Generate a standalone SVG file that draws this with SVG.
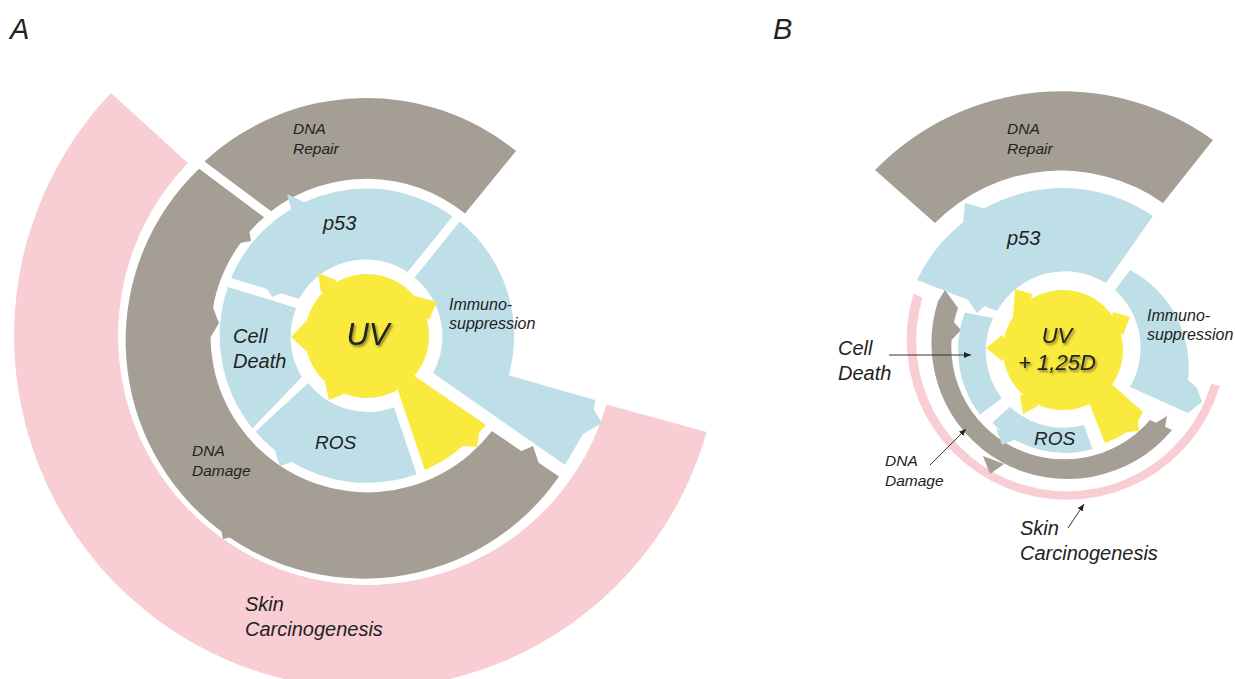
<svg xmlns="http://www.w3.org/2000/svg" width="1235" height="679" viewBox="0 0 1235 679">
<style>
.pink{fill:#f8cdd4}
.gray{fill:#a59e94}
.blue{fill:#bedfe8}
.yel{fill:#f9ea3d}
.t{font-family:'Liberation Sans',Arial,sans-serif;font-style:italic;fill:#222}
.conn{stroke:#333;stroke-width:1;fill:none}
</style>
<defs>
<marker id="ah" markerWidth="8" markerHeight="8" refX="7" refY="4" orient="auto" markerUnits="userSpaceOnUse"><path d="M0,1 L7,4 L0,7 Z" fill="#222"/></marker>
<filter id="sh" x="-30%" y="-30%" width="160%" height="160%"><feDropShadow dx="1.5" dy="2" stdDeviation="1.2" flood-color="#000" flood-opacity="0.45"/></filter>
</defs>
<rect width="1235" height="679" fill="#fff"/>

<text class="t" x="10" y="39" font-size="29">A</text>
<text class="t" x="773" y="39" font-size="29">B</text>

<!-- Panel A -->
<g id="A-skin-carcinogenesis">
<path class="pink" d="M706.7,432.1 A353,353 0 1 1 110.9,93 L187.9,163 A249,249 0 1 0 606.4,404.6 Z"/>
<text class="t" font-size="20"><tspan x="245" y="611">Skin</tspan><tspan x="245" y="636">Carcinogenesis</tspan></text>
</g>
<g id="A-dna-damage">
<path class="gray" d="M559,476.6 A238,238 0 1 1 199.1,168.7 L264.1,217.2 A157,157 0 1 0 491.9,431.1 Z"/>
<polygon class="gray" points="248,224 251,241 234,244"/>
<polygon class="gray" points="212,305 219,323 209,340"/>
<polygon class="gray" points="219,518 223,539 245,534"/>
<polygon class="gray" points="517,453 533,446 540,467"/>
<text class="t" font-size="15.5"><tspan x="192" y="456">DNA</tspan><tspan x="192" y="476">Damage</tspan></text>
</g>
<g id="A-dna-repair">
<path class="gray" d="M204.5,161.5 A238,238 0 0 1 516,151 L465,213.5 A157,157 0 0 0 271.1,211.2 Z"/>
<text class="t" font-size="15.5"><tspan x="293" y="134">DNA</tspan><tspan x="293" y="154">Repair</tspan></text>
</g>
<g id="A-p53">
<path class="blue" d="M231,278 A147,147 0 0 1 452.5,216.5 L407.6,272 A76,76 0 0 0 299,299 Z"/>
<polygon class="blue" points="308,204 287,194 293,216"/>
<polygon class="blue" points="264,283 272,297 289,290"/>
<text class="t" x="323" y="230" font-size="20">p53</text>
</g>
<g id="A-cell-death">
<path class="blue" d="M252.4,428.3 A147,147 0 0 1 228,287 L296.3,308 A76,76 0 0 0 301.8,376.9 Z"/>
<text class="t" font-size="20"><tspan x="233" y="343">Cell</tspan><tspan x="233" y="368">Death</tspan></text>
</g>
<g id="A-ros">
<path class="blue" d="M416.7,474.3 A147,147 0 0 1 255.6,431.4 L308.2,383.1 A76,76 0 0 0 394,407.3 Z"/>
<polygon class="blue" points="272,442 280,466 300,459"/>
<text class="t" x="315" y="449" font-size="19">ROS</text>
</g>
<g id="A-immunosuppression">
<path class="blue" d="M459.8,221.6 A147,147 0 0 1 508.7,375.3 L595,400 L594,410 L602,423 L583,434 L565,465 L433,373 A76,76 0 0 0 414.6,277.6 Z"/>
<text class="t" font-size="16"><tspan x="449" y="310">Immuno-</tspan><tspan x="449" y="329">suppression</tspan></text>
</g>
<g id="A-uv">
<circle class="yel" cx="367" cy="336" r="62"/>
<polygon class="yel" points="321,292 318,273 336,280 334,292"/>
<polygon class="yel" points="415,296 437,302 429,320 418,312"/>
<polygon class="yel" points="306,321 291,337 306,351 312,337"/>
<polygon class="yel" points="324,378 329,400 344,394 336,385"/>
<path class="yel" d="M403,368 L486,425 L479,433 L477,447 L463,446 A146,146 0 0 1 424.8,470 L394,379 Z"/>
<text class="t" x="368" y="345" font-size="31" text-anchor="middle" filter="url(#sh)">UV</text>
</g>

<!-- Panel B -->
<g id="B-skin-carcinogenesis">
<path class="pink" d="M1219.9,385.8 A159,159 0 1 1 913.5,293.6 L922.5,297.7 A150,150 0 1 0 1211.2,383.8 Z"/>
<text class="t" font-size="20"><tspan x="1020" y="535">Skin</tspan><tspan x="1020" y="560">Carcinogenesis</tspan></text>
</g>
<g id="B-dna-repair">
<path class="gray" d="M875,170 A260,260 0 0 1 1213,140 L1163,203 A177,177 0 0 0 935,223 Z"/>
<text class="t" font-size="15.5"><tspan x="1007" y="134">DNA</tspan><tspan x="1007" y="154">Repair</tspan></text>
</g>
<g id="B-dna-damage">
<path class="gray" d="M1172,430 A136,136 0 0 1 938,301.3 L945,290 L958,308 A113,113 0 0 0 1150,420 Z"/>
<polygon class="gray" points="948,316 961,330 948,344"/>
<polygon class="gray" points="983,456 990,474 1004,464"/>
<polygon class="gray" points="1154,424 1167,416 1164,433"/>
<text class="t" font-size="15.5"><tspan x="885" y="466">DNA</tspan><tspan x="885" y="486">Damage</tspan></text>
</g>
<g id="B-p53">
<path class="blue" d="M917,280 A161,161 0 0 1 1153,216 L1106,283 A78,78 0 0 0 997,311 Z"/>
<polygon class="blue" points="963,226 965,203 987,209 980,220"/>
<polygon class="blue" points="966,297 977,313 990,301"/>
<text class="t" x="1007" y="245" font-size="20">p53</text>
</g>
<g id="B-cell-death">
<path class="blue" d="M979.8,414.7 A107,107 0 0 1 964.8,312.5 L993,318 A78,78 0 0 0 1001.7,398.3 Z"/>
<text class="t" font-size="20"><tspan x="838" y="355">Cell</tspan><tspan x="838" y="380">Death</tspan></text>
</g>
<g id="B-ros">
<path class="blue" d="M1092.7,449.2 A103,103 0 0 1 992.2,422.8 L1010,406.7 A78,78 0 0 0 1084,425 Z"/>
<polygon class="blue" points="996,428 1002,445 1016,439"/>
<text class="t" x="1034" y="445" font-size="19">ROS</text>
</g>
<g id="B-immunosuppression">
<path class="blue" d="M1130,270 A110,110 0 0 1 1188,380 L1197,388 L1202,402 L1188,413 L1130,387 A78,78 0 0 0 1115,290 Z"/>
<text class="t" font-size="16"><tspan x="1147" y="321">Immuno-</tspan><tspan x="1147" y="340">suppression</tspan></text>
</g>
<g id="B-uv">
<circle class="yel" cx="1063" cy="350" r="60"/>
<polygon class="yel" points="1013,318 1015,289 1032,294 1030,310"/>
<polygon class="yel" points="1113,312 1130,317 1123,335 1110,325"/>
<polygon class="yel" points="1002,335 986,348 1002,361 1010,348"/>
<polygon class="yel" points="1020,395 1023,414 1038,406 1032,395"/>
<path class="yel" d="M1105,378 L1143,412 L1138,421 L1139,431 L1127,432 A101,101 0 0 1 1105,443 L1086,395 Z"/>
<text class="t" font-size="22" text-anchor="middle" filter="url(#sh)"><tspan x="1057" y="343">UV</tspan><tspan x="1057" y="370">+ 1,25D</tspan></text>
</g>

<g id="connectors">
<line class="conn" x1="889" y1="355" x2="971" y2="355" marker-end="url(#ah)"/>
<line class="conn" x1="930" y1="465" x2="966" y2="429" marker-end="url(#ah)"/>
<line class="conn" x1="1068" y1="528" x2="1084" y2="504" marker-end="url(#ah)"/>
</g>
</svg>
